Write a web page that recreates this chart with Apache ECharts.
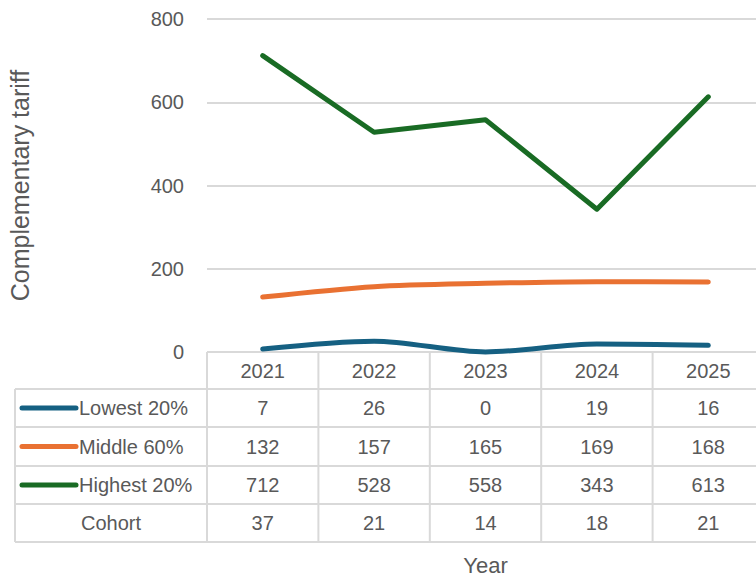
<!DOCTYPE html>
<html>
<head>
<meta charset="utf-8">
<script src="https://cdn.jsdelivr.net/npm/echarts@6/dist/echarts.min.js"></script>
<style>
html,body{margin:0;padding:0;background:#fff;}
#chart{width:756px;height:577px;}
</style>
</head>
<body>
<div id="chart"></div>
<script>
const categories = ['2021', '2022', '2023', '2024', '2025'];
const seriesNames = ['Lowest 20%', 'Middle 60%', 'Highest 20%'];
const lowest = [7, 26, 0, 19, 16];
const middle = [132, 157, 165, 169, 168];
const highest = [712, 528, 558, 343, 613];
const cohortLabel = 'Cohort';
const cohort = [37, 21, 14, 18, 21];
const yMin = 0, yMax = 800, yStep = 200;

const colors = ['#156082', '#E97132', '#196B24'];
const smoothFlags = [true, true, false];
const seriesData = [lowest, middle, highest];
const textColor = '#595959';
const fontFamily = '"Liberation Sans", Arial, sans-serif';
const gridColor = '#d9d9d9';

const chart = echarts.init(document.getElementById('chart'), null, {renderer: 'svg'});

chart.setOption({
  animation: false,
  backgroundColor: '#fff',
  grid: {left: 207, top: 19, width: 557, height: 333, containLabel: false, outerBoundsMode: 'none'},
  xAxis: {
    type: 'category',
    data: categories,
    boundaryGap: true,
    axisLine: {show: false},
    axisTick: {show: false},
    axisLabel: {show: false},
    name: 'Year',
    nameLocation: 'middle',
    nameGap: 202,
    nameTextStyle: {color: textColor, fontSize: 22, fontFamily: fontFamily}
  },
  yAxis: {
    type: 'value',
    min: yMin, max: yMax, interval: yStep,
    axisLine: {show: false},
    axisTick: {show: false},
    axisLabel: {color: textColor, fontSize: 20, fontFamily: fontFamily, margin: 23},
    splitLine: {lineStyle: {color: gridColor, width: 2}},
    name: 'Complementary tariff',
    nameLocation: 'middle',
    nameGap: 175,
    nameTextStyle: {color: textColor, fontSize: 25, fontFamily: fontFamily}
  },
  series: seriesNames.map((n, i) => ({
    name: n,
    type: 'line',
    data: seriesData[i],
    smooth: smoothFlags[i] ? 0.3 : false,
    showSymbol: false,
    clip: false,
    lineStyle: {color: colors[i], width: 5, cap: 'round', join: 'round'},
    itemStyle: {color: colors[i]}
  }))
});

function buildTable() {
  const centers = categories.map(c => chart.convertToPixel({xAxisIndex: 0}, c));
  const band = centers[1] - centers[0];
  const colEdges = [centers[0] - band / 2].concat(centers.map(c => c + band / 2));
  const top = chart.convertToPixel({yAxisIndex: 0}, 0);
  const rowHeights = [37, 38, 39, 38, 38];
  const rowEdges = [top];
  rowHeights.forEach(h => rowEdges.push(rowEdges[rowEdges.length - 1] + h));
  const labelLeft = 15;
  const rightEnd = colEdges[colEdges.length - 1];
  const els = [];
  const ls = {stroke: gridColor, lineWidth: 2};
  els.push({type: 'line', shape: {x1: colEdges[0], y1: rowEdges[0], x2: rightEnd, y2: rowEdges[0]}, style: ls, silent: true});
  for (let r = 1; r < rowEdges.length; r++) {
    els.push({type: 'line', shape: {x1: labelLeft, y1: rowEdges[r], x2: rightEnd, y2: rowEdges[r]}, style: ls, silent: true});
  }
  els.push({type: 'line', shape: {x1: labelLeft, y1: rowEdges[1], x2: labelLeft, y2: rowEdges[rowEdges.length - 1]}, style: ls, silent: true});
  colEdges.forEach(x => {
    els.push({type: 'line', shape: {x1: x, y1: rowEdges[0], x2: x, y2: rowEdges[rowEdges.length - 1]}, style: ls, silent: true});
  });
  const txt = (s, x, y, align) => ({
    type: 'text', x: x, y: y, silent: true,
    style: {text: String(s), fill: textColor, fontSize: 20, fontFamily: fontFamily, align: align || 'center', verticalAlign: 'middle'}
  });
  const rowMid = r => (rowEdges[r] + rowEdges[r + 1]) / 2;
  categories.forEach((c, i) => els.push(txt(c, centers[i], rowMid(0))));
  seriesNames.forEach((n, s) => {
    const y = rowMid(s + 1);
    els.push({type: 'line', shape: {x1: 22, y1: y, x2: 76, y2: y}, style: {stroke: colors[s], lineWidth: 5, lineCap: 'round'}, silent: true});
    els.push(txt(n, 79, y, 'left'));
    seriesData[s].forEach((v, i) => els.push(txt(v, centers[i], y)));
  });
  const yc = rowMid(4);
  els.push(txt(cohortLabel, (labelLeft + colEdges[0]) / 2, yc));
  cohort.forEach((v, i) => els.push(txt(v, centers[i], yc)));
  chart.setOption({graphic: {elements: els}});
}
buildTable();
</script>
</body>
</html>
